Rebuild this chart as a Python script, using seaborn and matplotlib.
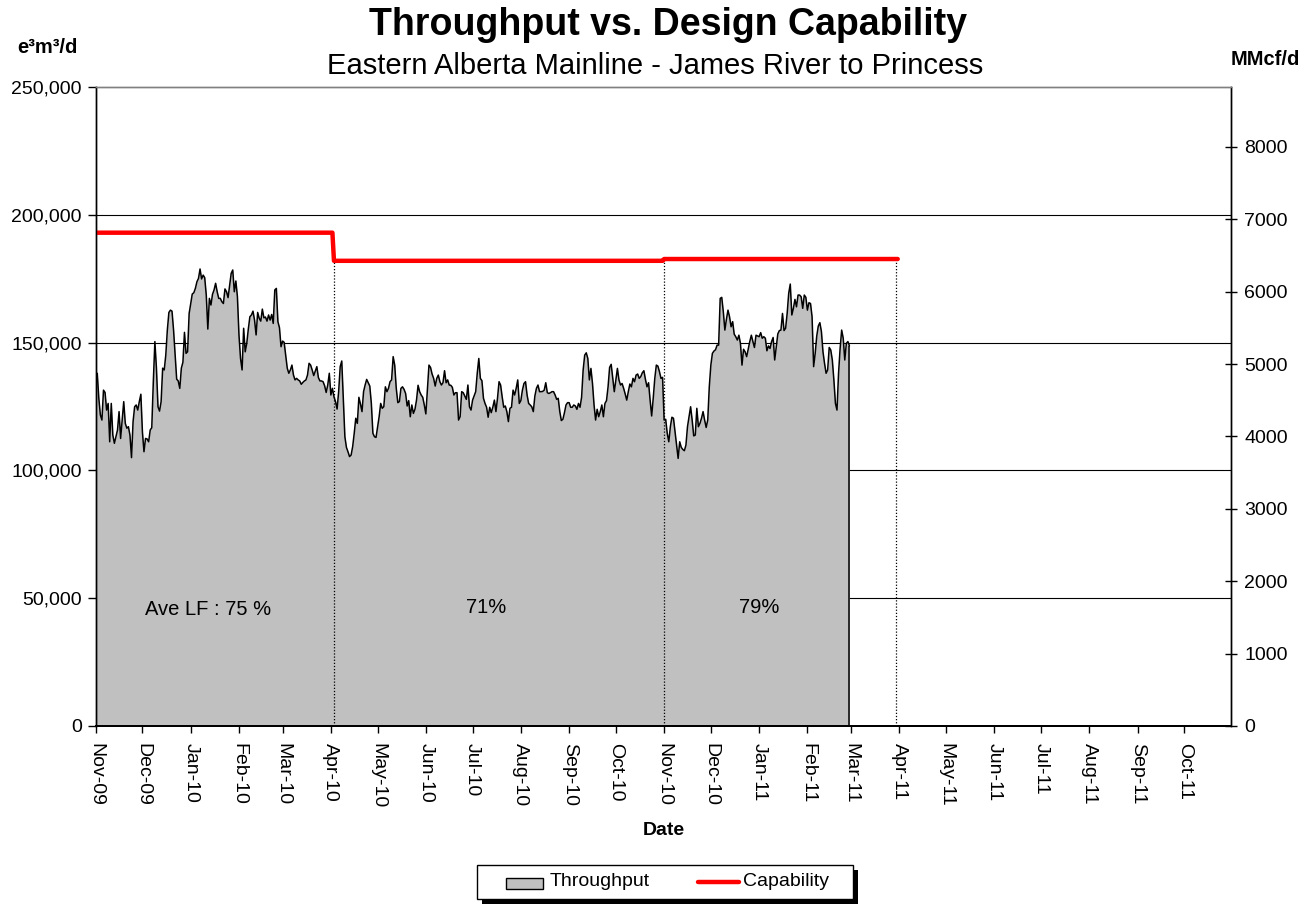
import numpy as np
import pandas as pd
import matplotlib
matplotlib.use("Agg")
import matplotlib.pyplot as plt
import matplotlib.dates as mdates
from matplotlib.ticker import FuncFormatter, MultipleLocator
from matplotlib.patches import Rectangle
from matplotlib.lines import Line2D
import seaborn as sns

# ---------------------------------------------------------------- data
start_date = "2009-11-01"

# Daily throughput, e3m3/d, from 1 Nov 2009 to 28 Feb 2011
throughput = [
    136000, 138000, 128200, 121700, 119700, 131400, 130500, 123600, 126200, 111200,
    126200, 113800, 110600, 113200, 115800, 123000, 112500, 119700, 126900, 118400,
    116500, 117100, 113800, 105000, 119100, 124900, 125600, 123600, 126900, 129800,
    115100, 107300, 112500, 112300, 111200, 115800, 116700, 134700, 150400, 140000,
    124900, 123200, 126900, 140000, 139300, 145100, 154900, 161800, 162700, 162300,
    154900, 145100, 135700, 135000, 132100, 140000, 142300, 154000, 145800, 146400,
    161400, 165300, 169000, 169500, 171200, 173800, 175100, 178800, 174900, 176400,
    175400, 168600, 155300, 167300, 164700, 168900, 170600, 173200, 169900, 167300,
    167300, 166000, 165300, 171000, 169900, 167600, 172500, 177100, 178400, 169900,
    174100, 168000, 153000, 143800, 139300, 155600, 146400, 149700, 155300, 160100,
    160800, 162300, 158800, 153000, 161800, 159500, 158400, 163100, 159700, 160000,
    158400, 160800, 158800, 161000, 157500, 170600, 171200, 158200, 155800, 148400,
    150600, 150100, 145100, 140000, 138000, 139300, 141200, 137300, 135400, 136000,
    135400, 135000, 133700, 134400, 135000, 135400, 137300, 141900, 141200, 139300,
    137100, 138900, 140600, 136300, 135000, 135000, 134700, 133100, 130500, 133400,
    138000, 129500, 132100, 128800, 126900, 124000, 130800, 140600, 142800, 128000,
    113200, 109000, 107300, 105400, 106000, 109300, 114500, 120400, 118400, 128600,
    126000, 123000, 130800, 133400, 135600, 134300, 133000, 126200, 114500, 113200,
    112900, 117100, 121000, 126200, 124300, 124900, 132700, 130800, 132100, 134700,
    135400, 144500, 141200, 132100, 126500, 126900, 132100, 132700, 131700, 130100,
    125200, 127300, 121000, 125600, 122300, 123900, 127500, 133300, 130800, 129500,
    128600, 125600, 122100, 131400, 141200, 140300, 137700, 136000, 133000, 136000,
    137300, 134700, 133400, 134300, 139000, 134300, 135400, 133400, 133300, 132500,
    129500, 130400, 130400, 119700, 121000, 130800, 130400, 129100, 127800, 133400,
    124900, 123600, 127500, 129100, 130800, 138000, 143800, 136000, 135100, 128200,
    126200, 124700, 120800, 124700, 122600, 124700, 127500, 123000, 128200, 134700,
    133400, 128800, 124700, 125200, 123000, 119100, 124300, 124700, 131400, 129500,
    132100, 135400, 126200, 127300, 131400, 134000, 134700, 129500, 126200, 125600,
    124900, 123000, 129100, 132100, 133400, 130800, 130800, 130900, 131400, 134300,
    130400, 130100, 130400, 130800, 130800, 129500, 127800, 128200, 123000, 119500,
    120000, 122600, 125600, 126500, 126500, 124700, 124700, 125600, 125200, 123900,
    126200, 124700, 128600, 139300, 145100, 146000, 143800, 135400, 139900, 134000,
    125600, 119700, 123900, 121000, 123000, 125600, 121000, 126200, 127300, 132700,
    140300, 141500, 136000, 130800, 135400, 139900, 135400, 133400, 134000, 132100,
    129900, 127500, 130800, 133800, 132700, 136000, 134700, 137300, 137700, 136000,
    136700, 138200, 139000, 135600, 132700, 134300, 127500, 121300, 128200, 136000,
    141200, 140800, 138600, 136000, 136400, 119700, 120000, 114500, 111200, 117100,
    120800, 120400, 115100, 109900, 104700, 111200, 109000, 108200, 107700, 109900,
    117100, 121000, 124900, 119700, 113500, 113800, 124300, 117100, 118400, 120400,
    123000, 119700, 116800, 119700, 132700, 141200, 145800, 146700, 147200, 149000,
    149000, 167300, 167700, 162100, 154900, 159100, 162700, 160100, 156200, 158200,
    153300, 152300, 151000, 152900, 149700, 141200, 147400, 146400, 144500, 147400,
    150400, 152900, 150400, 148100, 152900, 152600, 152300, 153900, 151700, 152300,
    151700, 146800, 148700, 147700, 150400, 152000, 143200, 148400, 153400, 154700,
    154900, 161400, 154700, 155600, 161400, 169300, 172900, 160800, 163400, 166900,
    164000, 168600, 168600, 167900, 163400, 168600, 167700, 162700, 165600, 165300,
    160100, 140600, 145800, 152600, 156500, 157800, 154300, 146400, 141900, 138000,
    139300, 148100, 147100, 143200, 135400, 126200, 123600, 138000, 147700, 154900,
    151700, 143200, 149700, 150400, 148700,
]

# Design capability periods, e3m3/d
cap_starts = ["2009-11-01", "2010-04-03", "2010-11-01"]
cap_ends = ["2010-04-02", "2010-10-31", "2011-03-31"]
cap_values = [193000, 182000, 182700]

# Period boundaries marked with dotted drop lines
drop_dates = ["2010-04-03", "2010-11-01", "2011-03-30"]

# Average load factor per period
lf_labels = ["Ave LF : 75 %", "71%", "79%"]
lf_dates = ["2010-01-12", "2010-07-10", "2011-01-01"]
lf_heights = [45500, 46500, 46500]

axis_start = "2009-11-01"
axis_end = "2011-10-31"
E3M3_TO_MMCF = 0.0353147

# ---------------------------------------------------------------- frames
dates = pd.date_range(start_date, periods=len(throughput), freq="D")
flow = pd.DataFrame({"Date": dates, "Throughput": throughput})

cap = pd.concat(
    [pd.DataFrame({"Date": pd.date_range(s, e, freq="D"), "Capability": v})
     for s, e, v in zip(cap_starts, cap_ends, cap_values)],
    ignore_index=True,
)
drop_ts = pd.to_datetime(drop_dates)
drop_tops = cap.set_index("Date").loc[drop_ts, "Capability"].values

# ---------------------------------------------------------------- style
sns.set_style("white")
plt.rcParams["font.family"] = ["Liberation Sans", "DejaVu Sans"]
plt.rcParams.update({
    "text.color": "black",
    "axes.labelcolor": "black",
    "xtick.color": "black",
    "ytick.color": "black",
    "xtick.labelcolor": "black",
    "ytick.labelcolor": "black",
})

W, H = 1314, 906
fig = plt.figure(figsize=(W / 100, H / 100), dpi=100)
ax = fig.add_axes([95.7 / W, 1 - 726 / H, (1231 - 95.7) / W, (726 - 87) / H])

# horizontal gridlines behind the area
for g in [50000, 100000, 150000, 200000]:
    ax.axhline(g, color="black", lw=0.8, zorder=0.5)

# throughput area
ax.fill_between(flow["Date"], 0, flow["Throughput"], color="#C0C0C0", lw=0, zorder=2)
sns.lineplot(data=flow, x="Date", y="Throughput", color="black", lw=1.1,
             estimator=None, ax=ax, zorder=3)
ax.vlines(flow["Date"].iloc[-1], 0, flow["Throughput"].iloc[-1],
          color="black", lw=1.1, zorder=3)

# dotted drop lines at period boundaries
ax.vlines(drop_ts, 0, drop_tops, colors="black", linestyles=(0, (1, 1.5)),
          lw=0.9, zorder=4)

# design capability
sns.lineplot(data=cap, x="Date", y="Capability", color="#FF0000", lw=3.2,
             estimator=None, ax=ax, zorder=5)

# load factor annotations
for lab, d, h in zip(lf_labels, lf_dates, lf_heights):
    ax.text(pd.Timestamp(d), h, lab, ha="center", va="center", fontsize=14.5,
            color="black", zorder=6)

# ---------------------------------------------------------------- axes
ax.set_xlim(pd.Timestamp(axis_start), pd.Timestamp(axis_end))
ax.set_ylim(0, 250000)
ax.yaxis.set_major_locator(MultipleLocator(50000))
ax.yaxis.set_major_formatter(FuncFormatter(lambda v, p: f"{int(v):,}"))
ax.xaxis.set_major_locator(mdates.MonthLocator())
ax.xaxis.set_major_formatter(mdates.DateFormatter("%b-%y"))
ax.tick_params(axis="y", direction="out", length=6, width=1, pad=4,
               labelsize=14, left=True, color="black", labelcolor="black")
ax.tick_params(axis="x", direction="out", length=5, width=1, pad=7,
               labelsize=14, labelrotation=270, bottom=True, color="black",
               labelcolor="black")
ax.set_ylabel("")
ax.set_xlabel("Date", fontsize=14, fontweight="bold", labelpad=10, color="black")

ax2 = ax.twinx()
ax2.set_ylim(0, 250000 * E3M3_TO_MMCF)
ax2.yaxis.set_major_locator(MultipleLocator(1000))
ax2.yaxis.set_major_formatter(FuncFormatter(lambda v, p: f"{int(v)}"))
ax2.tick_params(axis="y", direction="inout", length=9, width=1, pad=5,
                labelsize=14, right=True, color="black", labelcolor="black")

for a in (ax, ax2):
    for side in ("left", "right", "bottom"):
        a.spines[side].set_color("black")
        a.spines[side].set_linewidth(1.0)
    a.spines["bottom"].set_linewidth(1.4)
    a.spines["top"].set_color("#808080")
    a.spines["top"].set_linewidth(1.0)

# ---------------------------------------------------------------- titles
fig.text(668 / W, 1 - 35 / H, "Throughput vs. Design Capability",
         ha="center", va="baseline", fontsize=27, fontweight="bold", color="black")
fig.text(655 / W, 1 - 74 / H, "Eastern Alberta Mainline - James River to Princess",
         ha="center", va="baseline", fontsize=21, color="black")
fig.text(47 / W, 1 - 53 / H, "e³m³/d", ha="center", va="baseline",
         fontsize=14.5, fontweight="bold", color="black")
fig.text(1265 / W, 1 - 65 / H, "MMcf/d", ha="center", va="baseline",
         fontsize=14.5, fontweight="bold", color="black")

# ---------------------------------------------------------------- legend box
def box(x0, y0, x1, y1, **kw):
    return Rectangle((x0 / W, 1 - y1 / H), (x1 - x0) / W, (y1 - y0) / H,
                     transform=fig.transFigure, **kw)

fig.add_artist(box(482, 870, 858, 904, facecolor="black", edgecolor="black", lw=0))
fig.add_artist(box(477, 865, 853, 899, facecolor="white", edgecolor="black", lw=1.0))
fig.add_artist(box(506, 878, 543, 889, facecolor="#C0C0C0", edgecolor="black", lw=1.0))
fig.text(550 / W, 1 - 882 / H, "Throughput", ha="left", va="center", fontsize=14,
         color="black")
fig.add_artist(Line2D([698 / W, 739 / W], [1 - 882 / H] * 2, color="#FF0000", lw=3.2,
                      transform=fig.transFigure))
fig.text(743 / W, 1 - 882 / H, "Capability", ha="left", va="center", fontsize=14,
         color="black")

fig.savefig("out.png", dpi=100)
